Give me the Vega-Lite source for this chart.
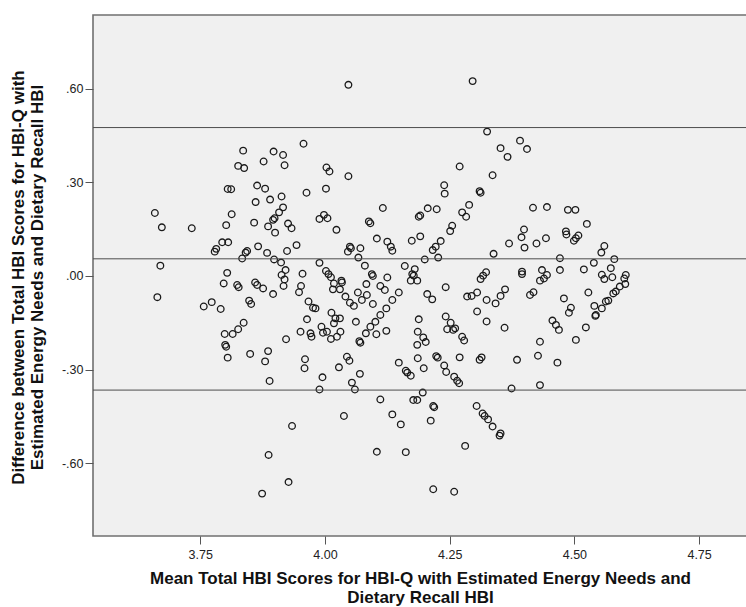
{
  "$schema": "https://vega.github.io/schema/vega-lite/v6.json",
  "width": 654,
  "height": 521,
  "autosize": {"type": "none"},
  "padding": {"left": 93, "top": 15, "right": 0, "bottom": 71},
  "background": "#ffffff",
  "config": {
    "view": {"fill": "#f0f0f0", "stroke": "#707070", "strokeWidth": 1.6},
    "font": "Liberation Sans",
    "axis": {
      "domain": false,
      "grid": false,
      "tickColor": "#555555",
      "tickSize": 8,
      "tickWidth": 1,
      "labelFont": "Liberation Sans",
      "labelFontSize": 12.5,
      "labelColor": "#222222",
      "titleFont": "Liberation Sans",
      "titleFontSize": 17,
      "titleFontWeight": "bold",
      "titleColor": "#111111",
      "titleLineHeight": 19
    }
  },
  "layer": [
    {
      "data": {"values": [
        {"m":4.047,"d":0.613},{"m":3.957,"d":0.424},{"m":3.836,"d":0.402},{"m":3.897,"d":0.399},{"m":3.916,"d":0.388},{"m":3.826,"d":0.353},{"m":3.838,"d":0.346},{"m":3.877,"d":0.367},{"m":3.919,"d":0.355},{"m":4.003,"d":0.348},{"m":4.009,"d":0.335},{"m":4.047,"d":0.320},{"m":3.805,"d":0.279},{"m":3.812,"d":0.278},{"m":3.864,"d":0.290},{"m":3.880,"d":0.280},{"m":3.963,"d":0.267},{"m":4.002,"d":0.280},{"m":3.913,"d":0.255},{"m":3.890,"d":0.245},{"m":3.861,"d":0.237},{"m":3.916,"d":0.220},{"m":3.908,"d":0.204},{"m":4.116,"d":0.218},{"m":3.659,"d":0.202},{"m":3.813,"d":0.198},{"m":3.899,"d":0.185},{"m":3.896,"d":0.180},{"m":3.998,"d":0.196},{"m":3.989,"d":0.183},{"m":4.005,"d":0.185},{"m":4.088,"d":0.175},{"m":4.091,"d":0.169},{"m":3.673,"d":0.156},{"m":3.733,"d":0.153},{"m":3.802,"d":0.163},{"m":3.858,"d":0.171},{"m":3.886,"d":0.159},{"m":3.926,"d":0.168},{"m":3.933,"d":0.153},{"m":3.900,"d":0.139},{"m":4.023,"d":0.148},{"m":4.104,"d":0.120},{"m":3.794,"d":0.108},{"m":3.806,"d":0.108},{"m":3.782,"d":0.087},{"m":3.779,"d":0.078},{"m":3.866,"d":0.095},{"m":3.943,"d":0.099},{"m":3.844,"d":0.080},{"m":3.841,"d":0.075},{"m":3.834,"d":0.056},{"m":3.884,"d":0.074},{"m":3.924,"d":0.080},{"m":3.898,"d":0.053},{"m":4.050,"d":0.094},{"m":4.052,"d":0.089},{"m":4.046,"d":0.078},{"m":4.071,"d":0.089},{"m":4.067,"d":0.059},{"m":4.080,"d":0.033},{"m":3.670,"d":0.033},{"m":3.989,"d":0.042},{"m":3.912,"d":0.043},{"m":3.921,"d":0.019},{"m":3.913,"d":0.003},{"m":3.919,"d":-0.011},{"m":3.955,"d":0.007},{"m":3.804,"d":0.010},{"m":4.002,"d":0.016},{"m":4.007,"d":0.006},{"m":4.012,"d":-0.004},{"m":4.033,"d":-0.015},{"m":4.094,"d":0.006},{"m":4.096,"d":0.000},{"m":4.125,"d":-0.005},
        {"m":4.296,"d":0.625},{"m":4.325,"d":0.463},{"m":4.352,"d":0.410},{"m":4.366,"d":0.382},{"m":4.391,"d":0.434},{"m":4.405,"d":0.407},{"m":4.270,"d":0.351},{"m":4.336,"d":0.323},{"m":4.239,"d":0.291},{"m":4.240,"d":0.264},{"m":4.310,"d":0.272},{"m":4.312,"d":0.267},{"m":4.289,"d":0.228},{"m":4.275,"d":0.204},{"m":4.283,"d":0.190},{"m":4.206,"d":0.217},{"m":4.224,"d":0.214},{"m":4.191,"d":0.194},{"m":4.188,"d":0.190},{"m":4.417,"d":0.219},{"m":4.445,"d":0.221},{"m":4.487,"d":0.212},{"m":4.502,"d":0.212},{"m":4.525,"d":0.167},{"m":4.255,"d":0.161},{"m":4.251,"d":0.144},{"m":4.191,"d":0.127},{"m":4.174,"d":0.113},{"m":4.232,"d":0.112},{"m":4.222,"d":0.094},{"m":4.216,"d":0.083},{"m":4.227,"d":0.059},{"m":4.200,"d":0.053},{"m":4.399,"d":0.149},{"m":4.394,"d":0.124},{"m":4.400,"d":0.091},{"m":4.369,"d":0.104},{"m":4.424,"d":0.104},{"m":4.443,"d":0.121},{"m":4.483,"d":0.143},{"m":4.484,"d":0.133},{"m":4.508,"d":0.130},{"m":4.503,"d":0.121},{"m":4.499,"d":0.113},{"m":4.560,"d":0.096},{"m":4.554,"d":0.075},{"m":4.580,"d":0.054},{"m":4.338,"d":0.071},{"m":4.471,"d":0.057},{"m":4.471,"d":0.019},{"m":4.519,"d":0.021},{"m":4.539,"d":0.042},{"m":4.573,"d":0.025},{"m":4.555,"d":0.004},{"m":4.560,"d":-0.010},{"m":4.576,"d":-0.004},{"m":4.603,"d":0.003},{"m":4.600,"d":-0.008},{"m":4.160,"d":0.032},{"m":4.180,"d":0.022},{"m":4.175,"d":0.006},{"m":4.178,"d":0.001},{"m":4.323,"d":0.012},{"m":4.317,"d":0.001},{"m":4.312,"d":-0.010},{"m":4.395,"d":0.014},{"m":4.395,"d":0.006},{"m":4.435,"d":0.019},{"m":4.445,"d":0.003},{"m":4.439,"d":-0.008},{"m":4.125,"d":0.110},{"m":4.132,"d":0.094},{"m":4.135,"d":0.081},
        {"m":3.664,"d":-0.068},{"m":3.757,"d":-0.098},{"m":3.773,"d":-0.084},{"m":3.791,"d":-0.106},{"m":3.797,"d":-0.024},{"m":3.824,"d":-0.029},{"m":3.827,"d":-0.036},{"m":3.848,"d":-0.079},{"m":3.852,"d":-0.090},{"m":3.860,"d":-0.021},{"m":3.864,"d":-0.029},{"m":3.876,"d":-0.040},{"m":3.896,"d":-0.058},{"m":3.917,"d":-0.032},{"m":3.952,"d":-0.032},{"m":3.948,"d":-0.052},{"m":3.967,"d":-0.082},{"m":3.976,"d":-0.102},{"m":3.981,"d":-0.104},{"m":3.964,"d":-0.139},{"m":4.013,"d":-0.118},{"m":4.018,"d":-0.024},{"m":4.016,"d":-0.043},{"m":4.030,"d":-0.043},{"m":4.034,"d":-0.021},{"m":4.041,"d":-0.066},{"m":4.050,"d":-0.086},{"m":4.058,"d":-0.096},{"m":4.066,"d":-0.053},{"m":4.074,"d":-0.077},{"m":4.084,"d":-0.061},{"m":4.083,"d":-0.026},{"m":4.096,"d":-0.090},{"m":4.111,"d":-0.032},{"m":4.120,"d":-0.045},{"m":4.123,"d":-0.104},{"m":4.111,"d":-0.125},{"m":4.101,"d":-0.147},{"m":4.091,"d":-0.163},{"m":4.082,"d":-0.184},{"m":4.103,"d":-0.187},{"m":4.123,"d":-0.176},{"m":4.062,"d":-0.147},{"m":4.021,"d":-0.136},{"m":4.030,"d":-0.136},{"m":4.018,"d":-0.152},{"m":3.993,"d":-0.163},{"m":3.996,"d":-0.182},{"m":4.004,"d":-0.179},{"m":4.031,"d":-0.179},{"m":4.024,"d":-0.195},{"m":4.012,"d":-0.202},{"m":3.971,"d":-0.184},{"m":3.973,"d":-0.195},{"m":3.951,"d":-0.179},{"m":3.922,"d":-0.203},{"m":4.069,"d":-0.209},{"m":4.071,"d":-0.214},{"m":3.837,"d":-0.150},{"m":3.826,"d":-0.171},{"m":3.815,"d":-0.186},{"m":3.799,"d":-0.186},{"m":3.800,"d":-0.221},{"m":3.802,"d":-0.227},{"m":3.805,"d":-0.262},{"m":3.850,"d":-0.250},{"m":3.886,"d":-0.241},{"m":3.880,"d":-0.274},{"m":3.960,"d":-0.267},{"m":3.959,"d":-0.296},{"m":3.889,"d":-0.337},{"m":3.995,"d":-0.325},{"m":3.989,"d":-0.364},{"m":4.044,"d":-0.259},{"m":4.049,"d":-0.272},{"m":4.028,"d":-0.293},{"m":4.070,"d":-0.314},{"m":4.054,"d":-0.342},{"m":4.060,"d":-0.364},{"m":4.111,"d":-0.396},{"m":4.038,"d":-0.449},{"m":3.934,"d":-0.481},{"m":4.104,"d":-0.564},{"m":3.887,"d":-0.574},{"m":3.927,"d":-0.661},{"m":3.874,"d":-0.698},
        {"m":4.135,"d":-0.077},{"m":4.148,"d":-0.053},{"m":4.172,"d":-0.015},{"m":4.185,"d":-0.015},{"m":4.205,"d":-0.058},{"m":4.215,"d":-0.075},{"m":4.242,"d":-0.036},{"m":4.285,"d":-0.066},{"m":4.294,"d":-0.064},{"m":4.305,"d":-0.053},{"m":4.324,"d":-0.077},{"m":4.342,"d":-0.088},{"m":4.352,"d":-0.064},{"m":4.361,"d":-0.043},{"m":4.305,"d":-0.114},{"m":4.324,"d":-0.146},{"m":4.360,"d":-0.166},{"m":4.242,"d":-0.130},{"m":4.252,"d":-0.150},{"m":4.245,"d":-0.171},{"m":4.261,"d":-0.168},{"m":4.257,"d":-0.173},{"m":4.275,"d":-0.195},{"m":4.279,"d":-0.207},{"m":4.188,"d":-0.139},{"m":4.186,"d":-0.179},{"m":4.197,"d":-0.197},{"m":4.202,"d":-0.212},{"m":4.185,"d":-0.221},{"m":4.186,"d":-0.264},{"m":4.148,"d":-0.278},{"m":4.162,"d":-0.304},{"m":4.165,"d":-0.310},{"m":4.172,"d":-0.320},{"m":4.198,"d":-0.296},{"m":4.223,"d":-0.257},{"m":4.226,"d":-0.262},{"m":4.239,"d":-0.287},{"m":4.243,"d":-0.308},{"m":4.259,"d":-0.323},{"m":4.265,"d":-0.336},{"m":4.269,"d":-0.344},{"m":4.270,"d":-0.261},{"m":4.310,"d":-0.269},{"m":4.314,"d":-0.261},{"m":4.385,"d":-0.269},{"m":4.427,"d":-0.256},{"m":4.431,"d":-0.211},{"m":4.466,"d":-0.278},{"m":4.374,"d":-0.361},{"m":4.431,"d":-0.350},{"m":4.196,"d":-0.374},{"m":4.177,"d":-0.398},{"m":4.185,"d":-0.398},{"m":4.217,"d":-0.417},{"m":4.219,"d":-0.421},{"m":4.212,"d":-0.464},{"m":4.135,"d":-0.444},{"m":4.152,"d":-0.476},{"m":4.162,"d":-0.565},{"m":4.304,"d":-0.417},{"m":4.316,"d":-0.441},{"m":4.320,"d":-0.449},{"m":4.327,"d":-0.460},{"m":4.336,"d":-0.483},{"m":4.352,"d":-0.505},{"m":4.350,"d":-0.512},{"m":4.281,"d":-0.545},{"m":4.217,"d":-0.684},{"m":4.259,"d":-0.692},{"m":4.411,"d":-0.061},{"m":4.418,"d":-0.052},{"m":4.431,"d":-0.015},{"m":4.479,"d":-0.072},{"m":4.493,"d":-0.102},{"m":4.489,"d":-0.118},{"m":4.528,"d":-0.053},{"m":4.540,"d":-0.096},{"m":4.555,"d":-0.104},{"m":4.543,"d":-0.125},{"m":4.542,"d":-0.128},{"m":4.563,"d":-0.082},{"m":4.568,"d":-0.079},{"m":4.578,"d":-0.056},{"m":4.583,"d":-0.050},{"m":4.591,"d":-0.034},{"m":4.602,"d":-0.026},{"m":4.456,"d":-0.143},{"m":4.463,"d":-0.157},{"m":4.469,"d":-0.173},{"m":4.523,"d":-0.165},{"m":4.503,"d":-0.205}
      ]},
      "mark": {"type": "point", "shape": "circle", "filled": false, "size": 44, "strokeWidth": 1.3, "color": "#1a1a1a", "opacity": 1},
      "encoding": {
        "x": {
          "field": "m", "type": "quantitative",
          "scale": {"domain": [3.535, 4.846], "nice": false, "zero": false},
          "axis": {
            "values": [3.75, 4.0, 4.25, 4.5, 4.75],
            "format": ".2f",
            "labelPadding": 4,
            "titleX": 327,
            "titleY": 47,
            "titleBaseline": "alphabetic",
            "title": ["Mean Total HBI Scores for HBI-Q with Estimated Energy Needs and", "Dietary Recall HBI"]
          }
        },
        "y": {
          "field": "d", "type": "quantitative",
          "scale": {"domain": [-0.834, 0.837], "nice": false, "zero": false},
          "axis": {
            "values": [-0.6, -0.3, 0, 0.3, 0.6],
            "labelExpr": "(datum.value < 0 ? '-' : '') + replace(format(abs(datum.value), '.2f'), '0.', '.')",
            "labelPadding": 2,
            "titleX": -70,
            "titleY": 262,
            "titleBaseline": "alphabetic",
            "title": ["Difference between Total HBI Scores for HBI-Q with", "Estimated Energy Needs and Dietary Recall HBI"]
          }
        }
      }
    },
    {
      "data": {"values": [{"v": 0.476}, {"v": 0.055}, {"v": -0.366}]},
      "mark": {"type": "rule", "color": "#4d4d4d", "strokeWidth": 1},
      "encoding": {
        "y": {"field": "v", "type": "quantitative"}
      }
    }
  ]
}
